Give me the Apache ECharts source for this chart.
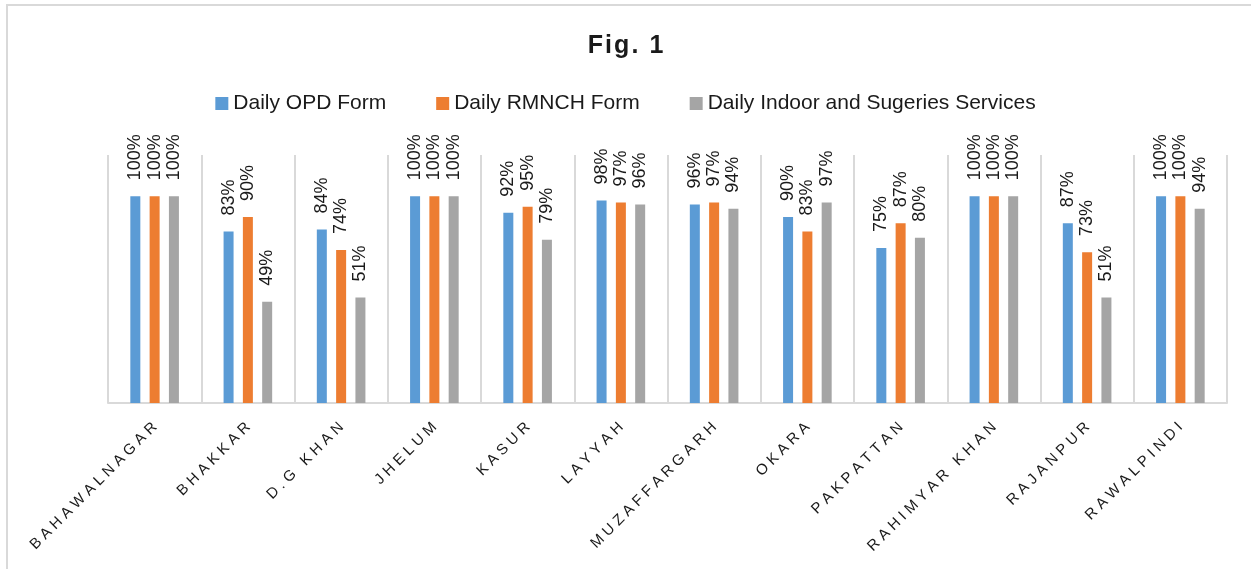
<!DOCTYPE html>
<html>
<head>
<meta charset="utf-8">
<title>Fig. 1</title>
<script src="https://cdn.jsdelivr.net/npm/echarts@6/dist/echarts.min.js"></script>
<style>
  html, body { margin: 0; padding: 0; background: #fff; }
  .frame {
    position: absolute; left: 6px; top: 4px; width: 1300px; height: 600px;
    border-top: 2px solid #d9d9d9; border-left: 2px solid #d9d9d9;
  }
  #chart { position: absolute; left: 0; top: 0; width: 1251px; height: 569px; }
</style>
</head>
<body>
<div class="frame"></div>
<div id="chart"></div>
<script>
// districts on the x axis
const districts = ['BAHAWALNAGAR', 'BHAKKAR', 'D.G KHAN', 'JHELUM', 'KASUR', 'LAYYAH',
  'MUZAFFARGARH', 'OKARA', 'PAKPATTAN', 'RAHIMYAR KHAN', 'RAJANPUR', 'RAWALPINDI'];

// percentages per form
const opdForm = [100, 83, 84, 100, 92, 98, 96, 90, 75, 100, 87, 100];
const rmnchForm = [100, 90, 74, 100, 95, 97, 97, 83, 87, 100, 73, 100];
const indoorServices = [100, 49, 51, 100, 79, 96, 94, 97, 80, 100, 51, 94];

const seriesNames = ['Daily OPD Form', 'Daily RMNCH Form', 'Daily Indoor and Sugeries Services'];
const colors = ['#5B9BD5', '#ED7D31', '#A5A5A5'];

const font = "'Liberation Sans', Arial, sans-serif";

const chart = echarts.init(document.getElementById('chart'));

const makeSeries = (name, data, color) => ({
  name: name,
  type: 'bar',
  data: data,
  barWidth: 10,
  barGap: '93%',
  itemStyle: { color: color },
  label: {
    show: true,
    position: 'top',
    distance: 16,
    rotate: 90,
    align: 'left',
    verticalAlign: 'middle',
    formatter: '{c}%',
    fontFamily: font,
    fontSize: 18,
    color: '#1a1a1a'
  }
});

const option = {
  animation: false,
  title: {
    text: 'F\u200Ai\u200Ag\u200A.\u200A \u200A1',
    left: 'center',
    top: 29,
    textStyle: { fontFamily: font, fontSize: 25, fontWeight: 'bold', color: '#1a1a1a' }
  },
  legend: {
    data: seriesNames,
    left: 'center',
    top: 88,
    itemWidth: 13,
    itemHeight: 13,
    itemGap: 50,
    icon: 'rect',
    textStyle: { fontFamily: font, fontSize: 21, color: '#1a1a1a' }
  },
  grid: { left: 108, right: 24, top: 155, bottom: 166 },
  xAxis: {
    type: 'category',
    data: districts,
    axisLine: { lineStyle: { color: '#d9d9d9', width: 2 } },
    axisTick: { show: false },
    splitLine: { show: true, interval: 0, lineStyle: { color: '#d9d9d9', width: 2 } },
    axisLabel: {
      interval: 0,
      rotate: 45,
      margin: 22,
      fontFamily: font,
      fontSize: 15,
      color: '#1a1a1a',
      formatter: v => v.split('').join(' ') // spaced capitals as in the figure
    }
  },
  yAxis: {
    type: 'value',
    min: 0,
    max: 120,
    show: false
  },
  series: [
    makeSeries(seriesNames[0], opdForm, colors[0]),
    makeSeries(seriesNames[1], rmnchForm, colors[1]),
    makeSeries(seriesNames[2], indoorServices, colors[2])
  ]
};

chart.setOption(option);
</script>
</body>
</html>
